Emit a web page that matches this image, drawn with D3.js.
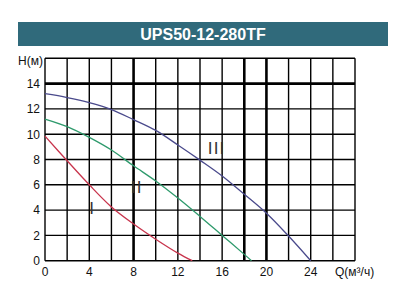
<!DOCTYPE html>
<html>
<head>
<meta charset="utf-8">
<script src="https://cdn.jsdelivr.net/npm/d3@7"></script>
<style>
  body { margin: 0; background: #fff; }
  text { font-family: Arial, "Liberation Sans", sans-serif; }
</style>
</head>
<body>
<div id="chart"></div>
<script>
var title = "UPS50-12-280TF"
var xTickLabels = [0, 4, 8, 12, 16, 20, 24]
var yTickLabels = [0, 2, 4, 6, 8, 10, 12, 14]
var thickX = [8, 18, 20]
var thickY = [14]

// Q (m3/h) and H (m)
var q1 = [0, 2, 4, 6, 8, 10, 12, 13.3]
var h1 = [9.85, 7.9, 6.0, 4.25, 2.9, 1.7, 0.6, 0]
var q2 = [0, 2, 4, 6, 8, 10, 12, 14, 16, 18, 18.65]
var h2 = [11.2, 10.6, 9.75, 8.75, 7.5, 6.3, 4.95, 3.5, 2.0, 0.5, 0]
var q3 = [0, 2, 4, 6, 8, 10, 12, 14, 16, 18, 20, 22, 24]
var h3 = [13.2, 12.9, 12.5, 11.95, 11.15, 10.3, 9.15, 7.95, 6.7, 5.25, 3.75, 1.95, 0]

var series = [
  {name: "I", q: q1, h: h1, color: "#c8344c", lq: 4.27, lh: 4.14},
  {name: "II", q: q2, h: h2, color: "#2e9a6c", lq: 8.28, lh: 5.85},
  {name: "III", q: q3, h: h3, color: "#4a4a8c", lq: 15.5, lh: 8.93}
]

var W = 400, H = 300
var svg = d3.select("#chart").append("svg")
  .attr("width", W).attr("height", H)

svg.append("rect")
  .attr("x", 18).attr("y", 22).attr("width", 370).attr("height", 24)
  .attr("fill", "#306a7b")
svg.append("text")
  .attr("x", 203).attr("y", 40)
  .attr("text-anchor", "middle")
  .attr("fill", "#fff")
  .attr("font-weight", "bold")
  .attr("font-size", 16)
  .text(title)

var x = d3.scaleLinear().domain([0, 28]).range([45, 355])
var y = d3.scaleLinear().domain([0, 16]).range([260.7, 58.3])

var grid = svg.append("g")
d3.range(0, 29, 2).forEach(function(v) {
  grid.append("line")
    .attr("x1", x(v)).attr("x2", x(v))
    .attr("y1", y(0)).attr("y2", y(16))
    .attr("stroke", "#000")
    .attr("stroke-width", thickX.indexOf(v) >= 0 ? 2.6 : 1.4)
})
d3.range(0, 17, 2).forEach(function(v) {
  grid.append("line")
    .attr("x1", x(0)).attr("x2", x(28))
    .attr("y1", y(v)).attr("y2", y(v))
    .attr("stroke", "#000")
    .attr("stroke-width", thickY.indexOf(v) >= 0 ? 2.6 : 1.4)
})

svg.selectAll(".xl").data(xTickLabels).enter().append("text")
  .attr("x", function(d) { return x(d) }).attr("y", 276)
  .attr("text-anchor", "middle").attr("font-size", 12).attr("fill", "#111")
  .text(function(d) { return d })
svg.selectAll(".yl").data(yTickLabels).enter().append("text")
  .attr("x", 40).attr("y", function(d) { return y(d) + 4.3 })
  .attr("text-anchor", "end").attr("font-size", 12).attr("fill", "#111")
  .text(function(d) { return d })

svg.append("text").attr("x", 43).attr("y", 65)
  .attr("text-anchor", "end").attr("font-size", 12).attr("fill", "#111")
  .text("H(м)")
svg.append("text").attr("x", 335).attr("y", 276)
  .attr("font-size", 12).attr("fill", "#111")
  .text("Q(м³/ч)")

var line = d3.line()
  .curve(d3.curveCatmullRom.alpha(0.5))
  .x(function(d) { return x(d[0]) })
  .y(function(d) { return y(d[1]) })

series.forEach(function(s) {
  svg.append("path")
    .attr("d", line(d3.zip(s.q, s.h)))
    .attr("fill", "none")
    .attr("stroke", s.color)
    .attr("stroke-width", 1.3)
  svg.append("text")
    .attr("x", x(s.lq)).attr("y", y(s.lh) + 6)
    .attr("text-anchor", "middle")
    .attr("font-size", 17)
    .attr("letter-spacing", 1.2)
    .attr("fill", "#333")
    .text(s.name)
})
</script>
</body>
</html>
